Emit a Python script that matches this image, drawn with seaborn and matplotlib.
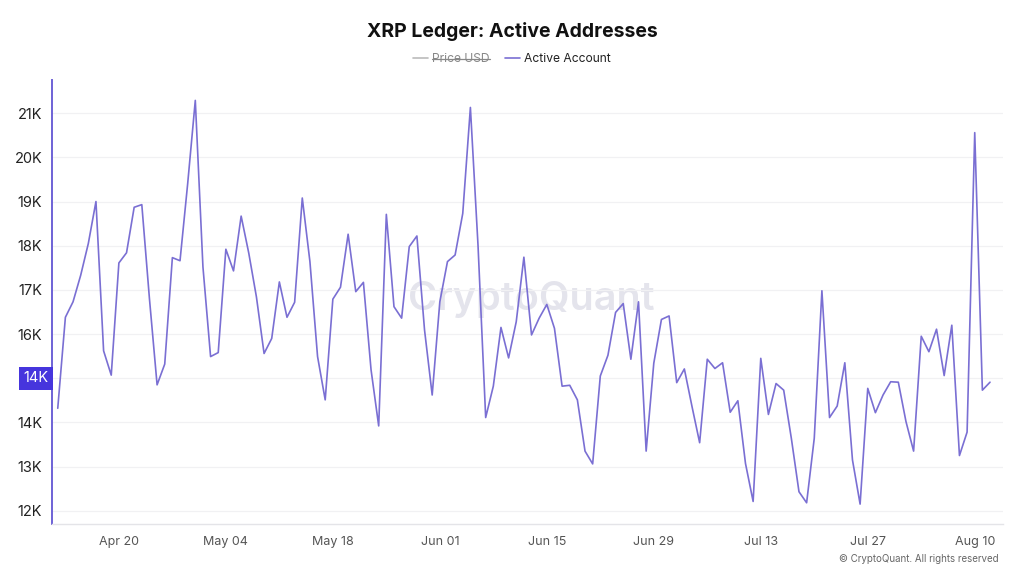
import pandas as pd
import matplotlib.pyplot as plt
import matplotlib.dates as mdates
from matplotlib.lines import Line2D
import seaborn as sns

start_date = "2024-04-12"

# daily active accounts, in thousands (Apr 12 .. Aug 12)
active_apr = [14.32, 16.38, 16.73, 17.33, 18.05, 19.0, 15.62, 15.07, 17.61, 17.84,
              18.87, 18.93, 16.8, 14.85, 15.32, 17.73, 17.66, 19.4, 21.29]
active_may = [17.52, 15.49, 15.58, 17.92, 17.43, 18.67, 17.83, 16.84, 15.56, 15.9,
              17.18, 16.38, 16.72, 19.08, 17.64, 15.49, 14.51, 16.79, 17.06, 18.26,
              16.96, 17.17, 15.19, 13.92, 18.71, 16.62, 16.36, 17.98, 18.22, 16.09, 14.62]
active_jun = [16.73, 17.64, 17.79, 18.73, 21.13, 18.0, 14.11, 14.82, 16.15, 15.46,
              16.28, 17.74, 15.98, 16.36, 16.67, 16.13, 14.82, 14.84, 14.51, 13.35,
              13.06, 15.05, 15.52, 16.49, 16.69, 15.43, 16.73, 13.35, 15.34, 16.33]
active_jul = [16.41, 14.90, 15.21, 14.36, 13.54, 15.43, 15.22, 15.35, 14.23, 14.49,
              13.07, 12.21, 15.45, 14.18, 14.88, 14.73, 13.64, 12.43, 12.18, 13.64,
              16.98, 14.11, 14.37, 15.35, 13.15, 12.15, 14.77, 14.22, 14.62, 14.92, 14.91]
active_aug = [14.02, 13.35, 15.95, 15.60, 16.11, 15.06, 16.20, 13.25, 13.78, 20.56,
              14.73, 14.91]

y_ticks = [12, 13, 14, 15, 16, 17, 18, 19, 20, 21]
x_ticks = ["2024-04-20", "2024-05-04", "2024-05-18", "2024-06-01", "2024-06-15",
           "2024-06-29", "2024-07-13", "2024-07-27", "2024-08-10"]
hover_label = "14K"
hover_value = 15

values = active_apr + active_may + active_jun + active_jul + active_aug
df = pd.DataFrame({"date": pd.date_range(start_date, periods=len(values), freq="D"),
                   "active": values})

sns.set_style("white")
plt.rcParams["font.family"] = ["Inter", "DejaVu Sans"]

line_color = "#7a6fd3"

fig = plt.figure(figsize=(10.24, 5.76), dpi=100)
ax = fig.add_axes([0.0508, 0.0903, 0.9287, 0.7707])

sns.lineplot(data=df, x="date", y="active", ax=ax, color=line_color, linewidth=1.2)

start = pd.Timestamp(start_date)
ax.set_xlim(start - pd.Timedelta(hours=18), start + pd.Timedelta(days=123.7))
ax.set_ylim(11.7, 21.75)

ax.set_yticks(y_ticks)
ax.set_yticklabels(["" if t == hover_value else f"{t}K" for t in y_ticks])
ax.set_xticks(pd.to_datetime(x_ticks))
ax.xaxis.set_major_formatter(mdates.DateFormatter("%b %d"))

ax.grid(axis="y", color="#f1f1f3", linewidth=0.9)
ax.grid(axis="x", visible=False)
ax.set_xlabel("")
ax.set_ylabel("")

for s in ["top", "right"]:
    ax.spines[s].set_visible(False)
ax.spines["left"].set_color("#6e62d6")
ax.spines["left"].set_linewidth(1.4)
ax.spines["bottom"].set_color("#e4e4e8")
ax.spines["bottom"].set_linewidth(1.0)

ax.tick_params(axis="y", length=0, labelsize=10.5, labelcolor="#222222", pad=7)
ax.tick_params(axis="x", length=4, color="#e4e4e8", labelsize=9, labelcolor="#555555", pad=5)

# crosshair value label on the y axis
ax.text(-0.0035, hover_value, hover_label, transform=ax.get_yaxis_transform(),
        ha="right", va="center", fontsize=10.5, color="white",
        bbox=dict(boxstyle="square,pad=0.3", facecolor="#4635dd", edgecolor="none"))

# watermark
ax.text(0.504, 0.505, "CryptoQuant", transform=ax.transAxes, ha="center", va="center",
        fontsize=28.5, color="#e4e4ec", fontweight="semibold", zorder=0)

fig.text(0.5, 0.945, "XRP Ledger: Active Addresses", ha="center", va="center",
         fontsize=14, fontweight="bold", color="#111111")

handles = [Line2D([], [], color="#bbbbbb", linewidth=1.2),
           Line2D([], [], color=line_color, linewidth=1.2)]
leg = fig.legend(handles, ["Price USD", "Active Account"], loc="center",
                 bbox_to_anchor=(0.5, 0.898), ncol=2, frameon=False, fontsize=8.7,
                 handlelength=1.2, handletextpad=0.35, columnspacing=1.3)
leg.get_texts()[0].set_color("#888888")
leg.get_texts()[1].set_color("#222222")

# strike through the hidden series
fig.canvas.draw()
bb = leg.get_texts()[0].get_window_extent()
ymid = (bb.y0 + bb.y1) / 2
fig.add_artist(Line2D([bb.x0 / fig.bbox.width, bb.x1 / fig.bbox.width],
                      [ymid / fig.bbox.height, ymid / fig.bbox.height],
                      color="#888888", linewidth=0.9))

fig.text(0.975, 0.029, "\u00a9 CryptoQuant. All rights reserved", ha="right", va="center",
         fontsize=7, color="#666666")

fig.savefig("out.png", dpi=100)
